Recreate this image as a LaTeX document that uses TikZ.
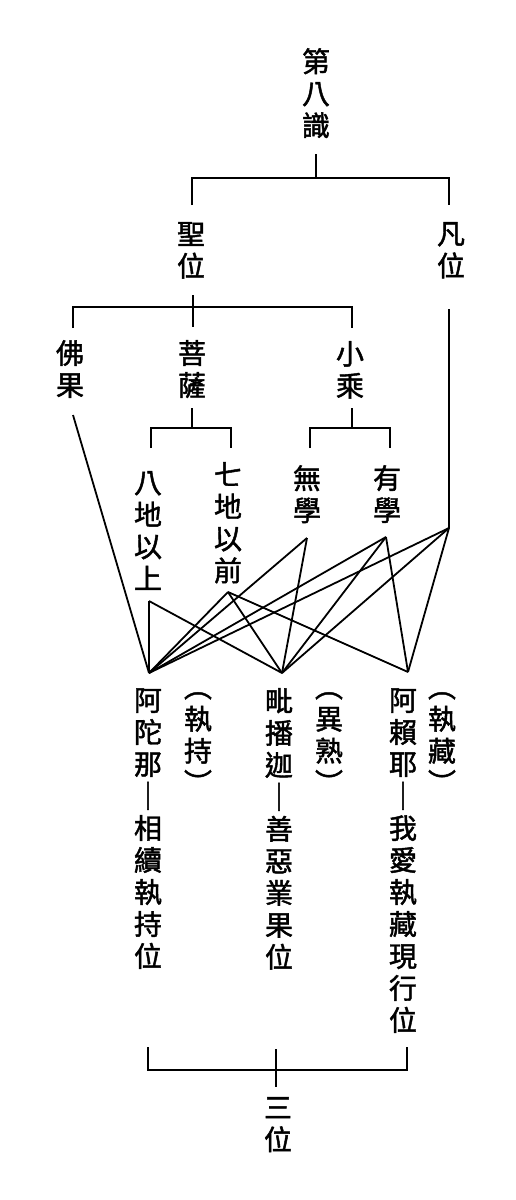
\documentclass[tikz,border=0pt]{standalone}
\usepackage{fontspec}
\newfontfamily\cjk[FakeBold=1.6]{Noto Sans CJK TC}
\begin{document}
\begin{tikzpicture}[x=1pt,y=-1pt,
  lbl/.style={font=\cjk\fontsize{28}{32}\selectfont, align=center, inner sep=0pt, anchor=north},
  ln/.style={line width=1.9pt},
  cross/.style={line width=1.8pt}]
\useasboundingbox[fill=white] (0,0) rectangle (515,1200);
% text columns
\node[lbl] (dibashi) at (316,48) {第\\八\\識};
\node[lbl] (shengwei) at (191,222) {聖\\位};
\node[lbl] (fanwei) at (451,222) {凡\\位};
\node[lbl] (foguo) at (70,340) {佛\\果};
\node[lbl] (pusa) at (192,340) {菩\\薩};
\node[lbl] (xiaosheng) at (350,341) {小\\乘};
\node[lbl] (badi) at (148,471) {八\\地\\以\\上};
\node[lbl] (qidi) at (228,462) {七\\地\\以\\前};
\node[lbl] (wuxue) at (307,465) {無\\學};
\node[lbl] (youxue) at (387,465) {有\\學};
\node[lbl] (atuona) at (148,688) {阿\\陀\\那\\｜\\相\\續\\執\\持\\位};
\node[lbl] (zhichi) at (198,692) {︵\\執\\持\\︶};
\node[lbl] (pibojia) at (279,688) {毗\\播\\迦\\｜\\善\\惡\\業\\果\\位};
\node[lbl] (yishu) at (329,692) {︵\\異\\熟\\︶};
\node[lbl] (alaiye) at (403,688) {阿\\賴\\耶\\｜\\我\\愛\\執\\藏\\現\\行\\位};
\node[lbl] (zhicang) at (442,692) {︵\\執\\藏\\︶};
\node[lbl] (sanwei) at (278,1097) {三\\位};
% bracket coordinates
\coordinate (k0) at (316,154);
\coordinate (k0m) at (316,178);
\coordinate (k0l) at (192,205);
\coordinate (k0r) at (449,205);
\coordinate (k1) at (193,295);
\coordinate (k1m) at (193,327);
\coordinate (k1l) at (73,328);
\coordinate (k1r) at (352,328);
\coordinate (k2) at (192,408);
\coordinate (k2m) at (192,428);
\coordinate (k2l) at (151,448);
\coordinate (k2r) at (231,448);
\coordinate (k3) at (352,408);
\coordinate (k3m) at (352,428);
\coordinate (k3l) at (310,448);
\coordinate (k3r) at (390,448);
\coordinate (fantop) at (449,309);
\coordinate (k4) at (276,1049);
\coordinate (k4m) at (276,1087);
\coordinate (k4l) at (148,1047);
\coordinate (k4r) at (407,1047);
% brackets
\draw[ln] (k0) -- (k0m);
\draw[ln] (k0l) -- ++(0,-27) -| (k0r);
\draw[ln] (k1) -- (k1m);
\draw[ln] (k1l) -- ++(0,-21) -| (k1r);
\draw[ln] (k2) -- (k2m);
\draw[ln] (k2l) -- ++(0,-20) -| (k2r);
\draw[ln] (k3) -- (k3m);
\draw[ln] (k3l) -- ++(0,-20) -| (k3r);
\draw[ln] (k4) -- (k4m);
\draw[ln] (k4l) -- ++(0,23) -| (k4r);
% connection points
\coordinate (pF) at (73,415);
\coordinate (p8) at (149,601);
\coordinate (p7) at (228,592);
\coordinate (pW) at (307,538);
\coordinate (pY) at (386,537);
\coordinate (pN) at (449,528);
\coordinate (A) at (149,673);
\coordinate (B) at (282,673);
\coordinate (C) at (408,672);
\draw[ln] (fantop) -- (pN);
\draw[cross] (pF) -- (A);
\draw[cross] (p8) -- (A);
\draw[cross] (p8) -- (B);
\draw[cross] (p7) -- (A);
\draw[cross] (p7) -- (B);
\draw[cross] (p7) -- (C);
\draw[cross] (pW) -- (A);
\draw[cross] (pW) -- (B);
\draw[cross] (pY) -- (A);
\draw[cross] (pY) -- (B);
\draw[cross] (pY) -- (C);
\draw[cross] (pN) -- (A);
\draw[cross] (pN) -- (B);
\draw[cross] (pN) -- (C);
\end{tikzpicture}
\end{document}
